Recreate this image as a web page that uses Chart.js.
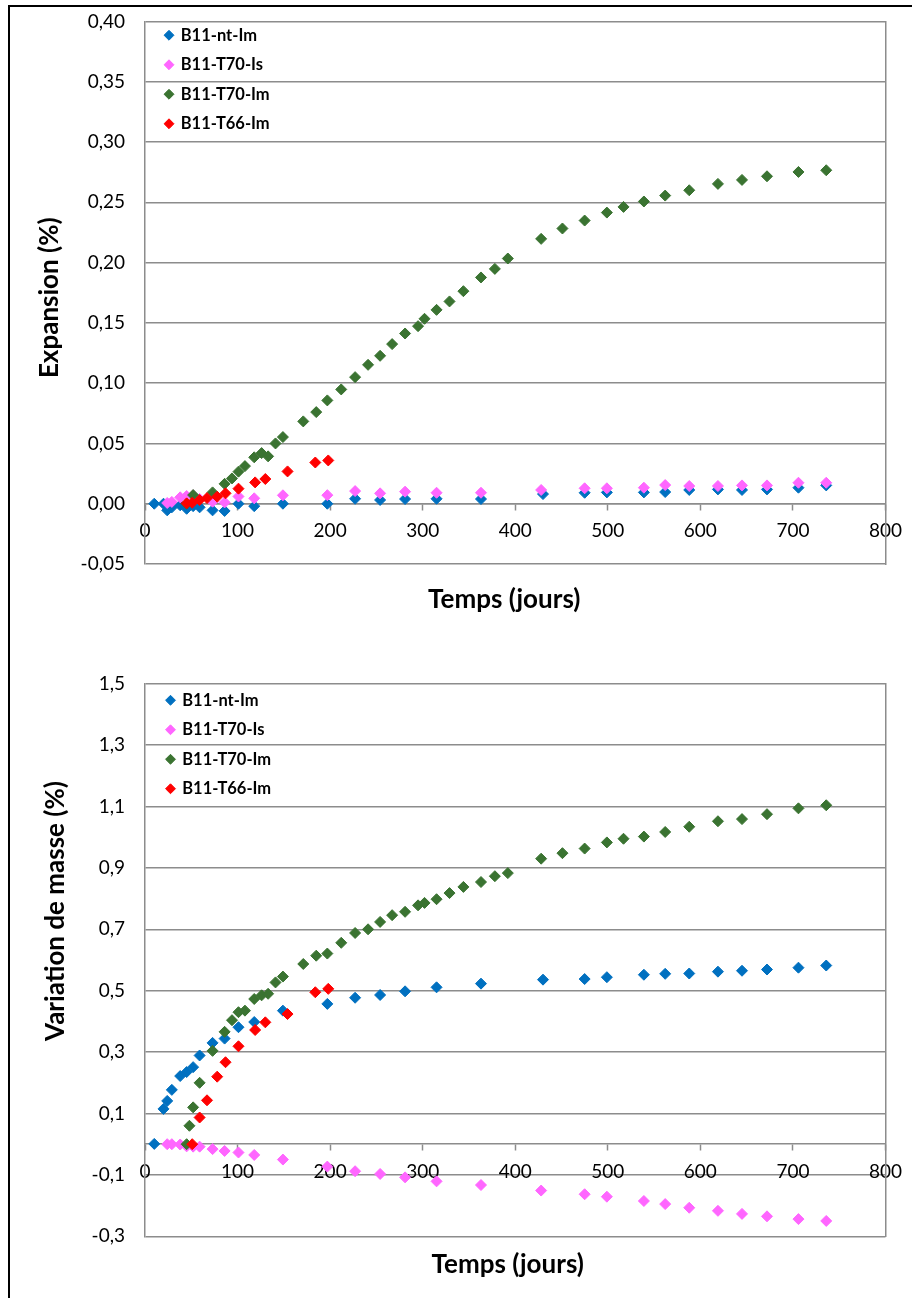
<!DOCTYPE html>
<html>
<head>
<meta charset="utf-8">
<script src="https://cdn.jsdelivr.net/npm/chart.js@4.4.0/dist/chart.umd.min.js"></script>
<style>
  body { margin: 0; background: #fff; width: 912px; height: 1298px; overflow: hidden; position: relative; }
  #frame { position: absolute; left: 8px; top: 5px; width: 930px; height: 1320px; border-left: 2px solid #000; border-top: 2px solid #000; }
  canvas { position: absolute; left: 0; }
  #expansion { top: 0; }
  #masse { top: 640px; }
</style>
</head>
<body>
<div id="frame"></div>
<canvas id="expansion" width="912" height="640"></canvas>
<canvas id="masse" width="912" height="658"></canvas>
<script>
// days of measurement for each series
const daysNt = [10, 20, 24, 29, 38, 45, 52, 59, 73, 86, 101, 118, 149, 197, 227, 254, 281, 315, 363, 430, 475, 499, 539, 562, 588, 619, 645, 672, 706, 736];
const daysIs = [24, 29, 38, 45, 52, 59, 73, 86, 101, 118, 149, 197, 227, 254, 281, 315, 363, 428, 475, 499, 539, 562, 588, 619, 645, 672, 706, 736];
const daysT70 = [45, 48, 52, 59, 73, 86, 94, 101, 108, 118, 126, 133, 141, 149, 171, 185, 197, 212, 227, 241, 254, 267, 281, 295, 302, 315, 329, 344, 363, 378, 392, 428, 451, 475, 499, 517, 539, 562, 588, 619, 645, 672, 706, 736];
const daysT66 = [45, 51, 59, 67, 78, 87, 101, 119, 130, 154, 184, 198];

// expansion (%)
const expNt = [0, 0, -0.0055, -0.003, -0.0013, -0.0042, -0.002, -0.003, -0.0055, -0.006, 0, -0.002, 0, 0, 0.0041, 0.0031, 0.0039, 0.0041, 0.0039, 0.008, 0.0091, 0.0094, 0.0094, 0.0097, 0.0114, 0.0119, 0.0114, 0.0119, 0.0133, 0.0152];
const expIs = [0.0006, 0.0015, 0.0053, 0.0064, 0.007, 0.004, 0.0017, 0.0011, 0.006, 0.0045, 0.007, 0.0071, 0.0105, 0.0086, 0.01, 0.0091, 0.0091, 0.0114, 0.0128, 0.0128, 0.0133, 0.0155, 0.0147, 0.0147, 0.0152, 0.0152, 0.0174, 0.0174];
const expT70 = [0, null, 0.0072, null, 0.0094, 0.0165, 0.021, 0.0266, 0.0312, 0.0385, 0.042, 0.0393, 0.05, 0.0553, 0.0683, 0.076, 0.0857, 0.0948, 0.105, 0.1152, 0.1227, 0.1324, 0.1412, 0.1473, 0.1534, 0.1608, 0.1678, 0.1763, 0.1877, 0.1948, 0.2034, 0.2197, 0.2283, 0.2349, 0.2415, 0.2462, 0.2507, 0.2556, 0.26, 0.2653, 0.2686, 0.2716, 0.2752, 0.2766];
const expT66 = [0.0003, 0.0008, 0.003, 0.0047, 0.0058, 0.0086, 0.0125, 0.0177, 0.0205, 0.0268, 0.0342, 0.0359];

// variation de masse (%)
const massNt = [0.001, 0.115, 0.141, 0.177, 0.222, 0.235, 0.251, 0.289, 0.330, 0.344, 0.381, 0.398, 0.435, 0.457, 0.477, 0.486, 0.498, 0.511, 0.523, 0.536, 0.538, 0.544, 0.552, 0.555, 0.556, 0.562, 0.565, 0.569, 0.575, 0.582];
const massIs = [0, 0, -0.001, -0.007, -0.008, -0.008, -0.016, -0.022, -0.027, -0.035, -0.050, -0.073, -0.088, -0.097, -0.108, -0.121, -0.133, -0.151, -0.163, -0.171, -0.185, -0.195, -0.207, -0.217, -0.227, -0.235, -0.244, -0.250];
const massT70 = [0, 0.060, 0.120, 0.200, 0.304, 0.366, 0.404, 0.430, 0.435, 0.473, 0.485, 0.490, 0.527, 0.546, 0.587, 0.614, 0.621, 0.656, 0.688, 0.700, 0.724, 0.746, 0.757, 0.778, 0.786, 0.798, 0.818, 0.838, 0.854, 0.873, 0.883, 0.930, 0.948, 0.963, 0.983, 0.995, 1.002, 1.017, 1.034, 1.052, 1.059, 1.075, 1.094, 1.104];
const massT66 = [null, 0, 0.087, 0.143, 0.220, 0.267, 0.319, 0.372, 0.397, 0.424, 0.495, 0.506];

const seriesNames = ["B11-nt-Im", "B11-T70-Is", "B11-T70-Im", "B11-T66-Im"];
const seriesColors = ["#0070C0", "#FF66FF", "#3A7331", "#FF0000"];

const FONT = "Lato, 'Open Sans', sans-serif";
const GRID = "#8c8c8c";

function pts(xs, ys) {
    return xs.map((x, i) => ({ x: x, y: ys[i] }));
}

// Excel put the legend inside the plot area and the axis titles a bit off-centre
const placeBoxes = {
    id: "placeBoxes",
    afterLayout(chart, args, opts) {
        chart.legend.left = opts.legendLeft;
        chart.legend.top = opts.legendTop;
        const xt = chart.scales.x2;
        xt.left += opts.xTitleShift;
        xt.right += opts.xTitleShift;
        const yt = chart.scales.yt;
        yt.top += opts.yTitleShift;
        yt.bottom += opts.yTitleShift;
    }
};

function makeChart(canvas, s) {
    const values = [s.nt, s.is, s.t70, s.t66];
    const days = [daysNt, daysIs, daysT70, daysT66];
    const datasets = values.map((v, i) => ({
        label: seriesNames[i],
        data: pts(days[i], v),
        pointStyle: "rectRot",
        pointRadius: 5.5,
        pointHoverRadius: 5.5,
        borderWidth: 1,
        backgroundColor: seriesColors[i],
        borderColor: seriesColors[i],
        order: 3 - i
    }));

    return new Chart(canvas.getContext("2d"), {
        type: "scatter",
        data: { datasets: datasets },
        plugins: [placeBoxes],
        options: {
            responsive: false,
            animation: false,
            devicePixelRatio: 1,
            events: [],
            layout: { padding: { top: s.padTop, right: s.padRight, bottom: 0, left: 0 } },
            plugins: {
                tooltip: { enabled: false },
                legend: {
                    position: "chartArea",
                    align: "start",
                    labels: {
                        usePointStyle: true,
                        boxWidth: 7,
                        boxHeight: 7,
                        padding: 13,
                        color: "#000",
                        font: { family: FONT, size: 16.5, weight: "bold" },
                        sort: (a, b) => a.datasetIndex - b.datasetIndex
                    }
                },
                placeBoxes: s.place
            },
            scales: {
                x: {
                    type: "linear",
                    position: { y: 0 },
                    min: 0,
                    max: 800,
                    ticks: { stepSize: 100, padding: 10, color: "#000", font: { family: FONT, size: 19 } },
                    grid: { drawOnChartArea: false, drawTicks: true, tickLength: 6, tickColor: GRID, tickWidth: 1.5 },
                    border: { color: GRID, width: 1.5 }
                },
                x2: {
                    type: "linear",
                    position: "bottom",
                    min: 0,
                    max: 800,
                    ticks: { display: false },
                    grid: { display: false },
                    border: { display: false },
                    title: {
                        display: true,
                        text: "Temps (jours)",
                        color: "#000",
                        font: { family: FONT, size: 26, weight: "bold" },
                        padding: { top: 0, bottom: s.xTitlePad }
                    },
                    afterFit: (scale) => { scale.height = s.bottomSpace; }
                },
                y: {
                    type: "linear",
                    position: "left",
                    min: s.yMin,
                    max: s.yMax,
                    ticks: {
                        stepSize: s.yStep,
                        padding: 20,
                        color: "#000",
                        font: { family: FONT, size: 19 },
                        callback: (v) => (Math.abs(v) < 1e-9 ? 0 : v).toFixed(s.decimals).replace(".", ",")
                    },
                    grid: { color: GRID, lineWidth: 1.5, drawTicks: false },
                    border: { color: GRID, width: 1.5 },
                    afterFit: (scale) => {
                        scale.width = 145;
                        scale.paddingTop = 0;
                        scale.paddingBottom = 0;
                    }
                },
                // carries only the y axis title
                yt: {
                    type: "linear",
                    position: "left",
                    weight: 1,
                    min: 0,
                    max: 1,
                    ticks: { display: false },
                    grid: { display: false },
                    border: { display: false },
                    title: {
                        display: true,
                        text: s.yTitle,
                        color: "#000",
                        font: { family: FONT, size: 26, weight: "bold" },
                        padding: { top: s.yTitlePad, bottom: 0 }
                    },
                    afterFit: (scale) => {
                        scale.width = 0;
                        scale.paddingTop = 0;
                        scale.paddingBottom = 0;
                    }
                },
                yr: {
                    type: "linear",
                    position: "right",
                    min: 0,
                    max: 1,
                    ticks: { display: false },
                    grid: { drawOnChartArea: false, drawTicks: false },
                    border: { color: GRID, width: 1.5 },
                    afterFit: (scale) => { scale.width = 0; }
                }
            }
        }
    });
}

makeChart(document.getElementById("expansion"), {
    nt: expNt, is: expIs, t70: expT70, t66: expT66,
    yMin: -0.05, yMax: 0.40, yStep: 0.05, decimals: 2,
    yTitle: "Expansion (%)", yTitlePad: 34.4,
    padTop: 21.5, padRight: 25, bottomSpace: 76, xTitlePad: 24.4,
    place: { legendLeft: 152.5, legendTop: 14, xTitleShift: -11, yTitleShift: 5 }
});

makeChart(document.getElementById("masse"), {
    nt: massNt, is: massIs, t70: massT70, t66: massT66,
    yMin: -0.3, yMax: 1.5, yStep: 0.2, decimals: 1,
    yTitle: "Variation de masse (%)", yTitlePad: 40.4,
    padTop: 43.7, padRight: 22, bottomSpace: 61.7, xTitlePad: 17.4,
    place: { legendLeft: 154, legendTop: 39, xTitleShift: -7.5, yTitleShift: -49 }
});
</script>
</body>
</html>
